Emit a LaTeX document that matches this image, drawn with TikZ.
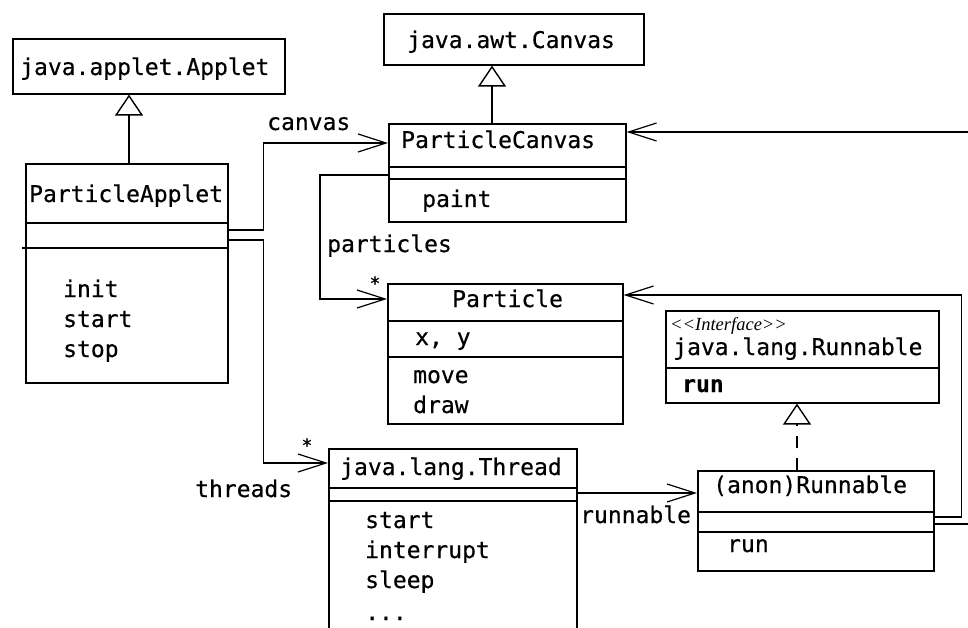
\documentclass[tikz,border=0pt]{standalone}
\usepackage{fontspec}
\setmainfont{Liberation Serif}
\setmonofont{DejaVu Sans Mono}[FakeBold=0.5]
\usetikzlibrary{arrows.meta}
\begin{document}
\begin{tikzpicture}[x=1pt,y=-1pt,
  box/.style={draw, line width=1.6pt, inner sep=0pt, anchor=north west, rectangle},
  div/.style={line width=1.6pt},
  txt/.style={font=\fontsize{23}{28}\selectfont\ttfamily, anchor=base west, inner sep=0pt},
  stereo/.style={font=\fontsize{18.5}{20}\selectfont\itshape, anchor=base west, inner sep=0pt},
  star/.style={font=\fontsize{18}{20}\selectfont\ttfamily, inner sep=0pt},
  assoc/.style={line width=1.4pt, -{Straight Barb[length=28pt,width=18pt,line width=1.2pt]}},
  gen/.style={line width=1.6pt, -{Triangle[fill=white,length=21pt,width=28pt,line width=1.4pt]}},
  real/.style={gen, dash pattern=on 12pt off 10pt}]
\clip (0,0) rectangle (968,628);
\fill[white] (0,0) rectangle (968,628);

% boxes
\node[box, minimum width=272pt, minimum height=55pt] (applet) at (12,38) {};
\node[box, minimum width=202pt, minimum height=219pt] (pa) at (25,163) {};
\node[box, minimum width=260pt, minimum height=51pt] (awt) at (383,13) {};
\node[box, minimum width=237pt, minimum height=98pt] (pc) at (388,123) {};
\node[box, minimum width=235pt, minimum height=140pt] (part) at (387,283) {};
\node[box, minimum width=273pt, minimum height=92pt] (runi) at (665,310) {};
\node[box, minimum width=236pt, minimum height=100pt] (anon) at (697,470) {};
\node[box, minimum width=248pt, minimum height=200pt] (thr) at (328,448) {};

% dividers
\draw[div] ([yshift=-60pt]pa.north west) -- ([yshift=-60pt]pa.north east);
\draw[div] ([yshift=-85pt,xshift=-3pt]pa.north west) -- ([yshift=-85pt]pa.north east);
\draw[div] ([yshift=-44pt]pc.north west) -- ([yshift=-44pt]pc.north east);
\draw[div] ([yshift=-56pt]pc.north west) -- ([yshift=-56pt]pc.north east);
\draw[div] ([yshift=-38pt]part.north west) -- ([yshift=-38pt]part.north east);
\draw[div] ([yshift=-74pt]part.north west) -- ([yshift=-74pt]part.north east);
\draw[div] ([yshift=-58pt]runi.north west) -- ([yshift=-58pt]runi.north east);
\draw[div] ([yshift=-42pt]anon.north west) -- ([yshift=-42pt]anon.north east);
\draw[div] ([yshift=-62pt]anon.north west) -- ([yshift=-62pt]anon.north east);
\draw[div] ([yshift=-40pt]thr.north west) -- ([yshift=-40pt]thr.north east);
\draw[div] ([yshift=-53pt]thr.north west) -- ([yshift=-53pt]thr.north east);

% texts
\node[txt] (tapplet) at (20,75) {java.applet.Applet};
\node[txt] (tpa) at (29,202) {ParticleApplet};
\node[txt] (tinit) at (63,297) {init};
\node[txt] (tstart) at (63,327) {start};
\node[txt] (tstop) at (63,357) {stop};
\node[txt] (tawt) at (407,48) {java.awt.Canvas};
\node[txt] (tpc) at (401,148) {ParticleCanvas};
\node[txt] (tpaint) at (422,207) {paint};
\node[txt] (tpart) at (452,307) {Particle};
\node[txt] (txy) at (415,345) {x, y};
\node[txt] (tmove) at (413,383) {move};
\node[txt] (tdraw) at (413,413) {draw};
\node[stereo] (tiface) at (670,330) {<{}<Interface>{}>};
\node[txt] (trun) at (673,355) {java.lang.Runnable};
\node[txt, font=\fontsize{23}{28}\selectfont\ttfamily\bfseries] (trunm) at (682,392) {run};
\node[txt] (tanon) at (713,493) {(anon)Runnable};
\node[txt] (tanonrun) at (727,552) {run};
\node[txt] (tthr) at (340,475) {java.lang.Thread};
\node[txt] (tts) at (365,528) {start};
\node[txt] (tti) at (365,558) {interrupt};
\node[txt] (ttsl) at (365,588) {sleep};
\node[txt] (ttd) at (365,620) {...};

% labels
\node[txt] (lcanvas) at (267,130) {canvas};
\node[txt] (lparticles) at (327,252) {particles};
\node[txt] (lthreads) at (195,497) {threads};
\node[txt] (lrunnable) at (580,523) {runnable};
\node[star] (s1) at (375,283) {*};
\node[star] (s2) at (307,445) {*};

% generalization
\draw[gen] ([xshift=104pt]pa.north west) -- ([xshift=104pt]pa.north west |- applet.south);
\draw[gen] ([xshift=104pt]pc.north west) -- ([xshift=104pt]pc.north west |- awt.south);
\draw[real] ([xshift=100pt]anon.north west) -- ([xshift=100pt]anon.north west |- runi.south);

% associations
\draw[assoc] ([yshift=-67pt]pa.north east) -- ++(35,0) |- ([yshift=-20pt]pc.north west);
\draw[assoc] ([yshift=-77pt]pa.north east) -- ++(35,0) |- ([yshift=-15pt]thr.north west);
\draw[assoc] ([yshift=-52pt]pc.north west) -- ++(-68,0) |- ([yshift=-16pt]part.north west);
\draw[assoc] ([yshift=-45pt]thr.north east) -- ([yshift=-23pt]anon.north west);
\draw[assoc] ([yshift=-47pt]anon.north east) -- ++(27,0) |- ([yshift=-12pt]part.north east);
\draw[assoc] ([yshift=-54pt]anon.north east) -- ++(50,0) |- ([yshift=-9pt]pc.north east);
\end{tikzpicture}
\end{document}
